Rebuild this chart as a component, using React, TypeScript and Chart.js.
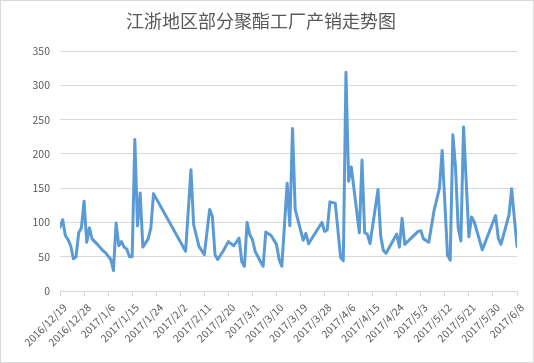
import React, { useEffect, useRef } from "react";
import { Chart, registerables } from "chart.js";

Chart.register(...registerables);

const title = "江浙地区部分聚酯工厂产销走势图";
const startDate = "2016/12/19";
const endDate = "2017/6/8";
const tickStepDays = 9;
const yTicks = [0, 50, 100, 150, 200, 250, 300, 350];

const dates = [
  "2016/12/19", "2016/12/20", "2016/12/21", "2016/12/22", "2016/12/23", "2016/12/24", "2016/12/25",
  "2016/12/26", "2016/12/27", "2016/12/28", "2016/12/29", "2016/12/30", "2016/12/31", "2017/1/2",
  "2017/1/4", "2017/1/5", "2017/1/7", "2017/1/8", "2017/1/9", "2017/1/10", "2017/1/11", "2017/1/12",
  "2017/1/13", "2017/1/14", "2017/1/15", "2017/1/16", "2017/1/17", "2017/1/18", "2017/1/19",
  "2017/1/21", "2017/1/22", "2017/1/23", "2017/2/4", "2017/2/6", "2017/2/7", "2017/2/9", "2017/2/11",
  "2017/2/13", "2017/2/14", "2017/2/15", "2017/2/16", "2017/2/18", "2017/2/20", "2017/2/22",
  "2017/2/24", "2017/2/25", "2017/2/26", "2017/2/27", "2017/2/28", "2017/3/1", "2017/3/2", "2017/3/4",
  "2017/3/5", "2017/3/6", "2017/3/8", "2017/3/10", "2017/3/11", "2017/3/12", "2017/3/14", "2017/3/15",
  "2017/3/16", "2017/3/17", "2017/3/20", "2017/3/21", "2017/3/22", "2017/3/27", "2017/3/28",
  "2017/3/29", "2017/3/30", "2017/4/1", "2017/4/3", "2017/4/4", "2017/4/5", "2017/4/6", "2017/4/7",
  "2017/4/10", "2017/4/11", "2017/4/12", "2017/4/13", "2017/4/14", "2017/4/17", "2017/4/18",
  "2017/4/19", "2017/4/20", "2017/4/24", "2017/4/25", "2017/4/26", "2017/4/27", "2017/5/2", "2017/5/3",
  "2017/5/4", "2017/5/6", "2017/5/8", "2017/5/10", "2017/5/11", "2017/5/13", "2017/5/14", "2017/5/15",
  "2017/5/16", "2017/5/17", "2017/5/18", "2017/5/19", "2017/5/21", "2017/5/22", "2017/5/23",
  "2017/5/26", "2017/5/31", "2017/6/1", "2017/6/2", "2017/6/5", "2017/6/6", "2017/6/8",
];

const values = [
  93, 104, 81, 75, 66, 47, 50,
  85, 92, 131, 71, 92, 76, 68,
  59, 56, 46, 30, 99, 66, 72, 64,
  61, 50, 50, 221, 95, 143, 64,
  76, 92, 142, 58, 177, 97, 65, 53,
  119, 109, 53, 46, 58, 72, 66,
  77, 43, 36, 100, 82, 75, 58, 43,
  36, 86, 81, 68, 46, 36, 157, 95,
  237, 119, 74, 84, 69, 100, 87,
  89, 130, 128, 49, 44, 319, 160, 181,
  85, 191, 85, 83, 69, 148, 80,
  59, 55, 83, 64, 106, 68, 87, 88,
  76, 71, 118, 150, 205, 52, 45, 228,
  180, 92, 73, 239, 79, 108, 101,
  60, 110, 77, 68, 111, 149, 65,
];

const DAY = 86400000;
function parseDate(s: string): number {
  const [y, m, d] = s.split("/").map(Number);
  return Date.UTC(y, m - 1, d);
}
function dayOffset(s: string): number {
  return Math.round((parseDate(s) - parseDate(startDate)) / DAY);
}
function labelFor(offset: number): string {
  const d = new Date(parseDate(startDate) + offset * DAY);
  return `${d.getUTCFullYear()}/${d.getUTCMonth() + 1}/${d.getUTCDate()}`;
}

const FONT = "'Noto Sans CJK SC', 'Noto Sans', sans-serif";
const TEXT = "#595959";
const GRID = "#d9d9d9";

const borderPlugin = {
  id: "outerBorder",
  beforeDraw(chart: any) {
    const { ctx, width, height } = chart;
    ctx.save();
    ctx.fillStyle = "#ffffff";
    ctx.fillRect(0, 0, width, height);
    ctx.strokeStyle = GRID;
    ctx.lineWidth = 1;
    ctx.strokeRect(0.5, 0.5, width - 1, height - 1);
    ctx.restore();
  },
};

export default function App() {
  const ref = useRef<HTMLCanvasElement | null>(null);

  useEffect(() => {
    if (!ref.current) return;
    const points = dates.map((d, i) => ({ x: dayOffset(d), y: values[i] }));
    const maxDay = dayOffset(endDate);
    const chart = new Chart(ref.current, {
      type: "line",
      data: {
        datasets: [
          {
            data: points,
            borderColor: "#5b9bd5",
            backgroundColor: "#5b9bd5",
            borderWidth: 3,
            pointRadius: 0,
            tension: 0,
            borderJoinStyle: "round",
            borderCapStyle: "round",
          },
        ],
      },
      options: {
        animation: false,
        responsive: false,
        maintainAspectRatio: false,
        layout: { padding: { top: 51, right: 17, left: 0, bottom: 0 } },
        plugins: {
          legend: { display: false },
          tooltip: { enabled: false },
          title: { display: false },
        },
        scales: {
          x: {
            type: "linear",
            min: 0,
            max: maxDay,
            afterBuildTicks(scale: any) {
              const t = [];
              for (let v = 0; v <= maxDay; v += tickStepDays) t.push({ value: v });
              scale.ticks = t;
            },
            afterFit(scale: any) {
              scale.height = 72;
            },
            ticks: {
              autoSkip: false,
              minRotation: 45,
              maxRotation: 45,
              color: TEXT,
              font: { family: FONT, size: 10.5 },
              padding: 5,
              labelOffset: 5,
              callback: (v: any) => labelFor(Number(v)),
            },
            grid: {
              display: true,
              drawOnChartArea: false,
              drawTicks: true,
              tickLength: 5,
              color: GRID,
            },
            border: { display: true, color: GRID, width: 1 },
          },
          y: {
            min: 0,
            max: 350,
            afterBuildTicks(scale: any) {
              scale.ticks = yTicks.map((v) => ({ value: v }));
            },
            afterFit(scale: any) {
              scale.width = 60;
            },
            ticks: {
              color: TEXT,
              font: { family: FONT, size: 10.5 },
              padding: 10,
            },
            grid: { color: GRID, drawTicks: false, lineWidth: 1 },
            border: { display: false },
          },
        },
      },
      plugins: [
        borderPlugin,
        {
          id: "titleText",
          afterDraw(c: any) {
            const ctx = c.ctx;
            ctx.save();
            ctx.fillStyle = TEXT;
            ctx.font = `18px ${FONT}`;
            ctx.textAlign = "center";
            ctx.textBaseline = "middle";
            ctx.fillText(title, 261, 21);
            ctx.restore();
          },
        },
      ],
    });
    return () => chart.destroy();
  }, []);

  return (
    <div style={{ position: "fixed", left: 0, top: 0, width: 534, height: 363 }}>
      <canvas ref={ref} width={534} height={363} style={{ width: 534, height: 363 }} />
    </div>
  );
}
